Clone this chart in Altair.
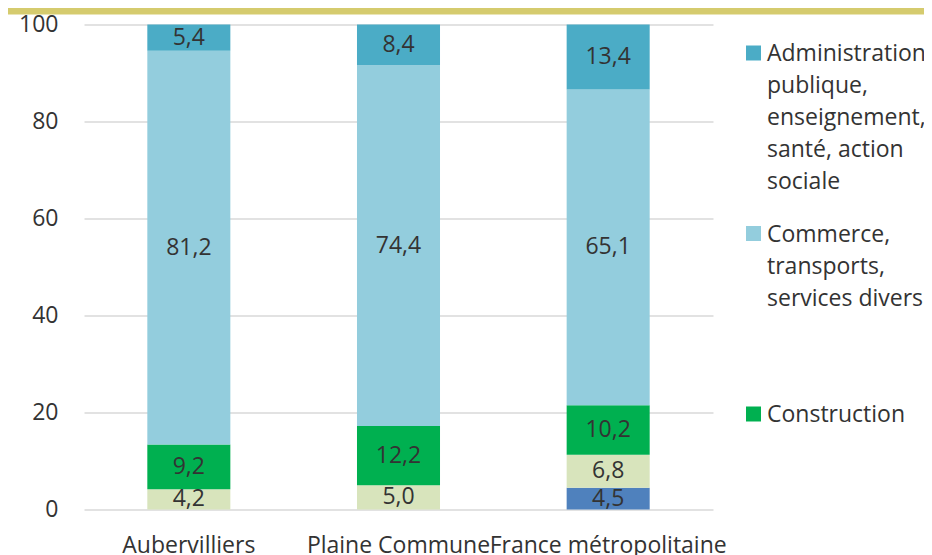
import json
import altair as alt
import pandas as pd

# ---- data ----
categories = ["Aubervilliers", "Plaine Commune", "France métropolitaine"]
# sectors from bottom to top of the stack
sectors = [
    "Agriculture",
    "Industrie",
    "Construction",
    "Commerce, transports, services divers",
    "Administration publique, enseignement, santé, action sociale",
]
agriculture = [None, None, 4.5]
industrie = [4.2, 5.0, 6.8]
construction = [9.2, 12.2, 10.2]
commerce = [81.2, 74.4, 65.1]
administration = [5.4, 8.4, 13.4]
y_ticks = [0, 20, 40, 60, 80, 100]

colors = ["#4f81bd", "#d8e4bc", "#00b050", "#93cddd", "#4bacc6"]

legend_lines = {
    "Administration publique, enseignement, santé, action sociale":
        ["Administration", "publique,", "enseignement,", "santé, action", "sociale"],
    "Commerce, transports, services divers":
        ["Commerce,", "transports,", "services divers"],
    "Construction": ["Construction"],
    "Industrie": ["Industrie"],
    "Agriculture": ["Agriculture"],
}

series = [agriculture, industrie, construction, commerce, administration]
rows = []
for si, (sec, vals) in enumerate(zip(sectors, series)):
    for ci, cat in enumerate(categories):
        if vals[ci] is not None:
            rows.append({"cat": cat, "sector": sec, "v": vals[ci], "order": si})
df = pd.DataFrame(rows)

FONT = "Open Sans"
TXT = "#333333"
FS = 23

legend_order = list(reversed(sectors))
legend_colors = list(reversed(colors))

label_expr = ""
for name in legend_order:
    label_expr += f"datum.label == {json.dumps(name)} ? {json.dumps(legend_lines[name])} : "
label_expr += "datum.label"

base = alt.Chart(df).transform_stack(
    stack="v", groupby=["cat"], as_=["y0", "y1"],
    sort=[alt.SortField("order", order="ascending")],
).transform_calculate(
    mid="(datum.y0 + datum.y1) / 2",
    lab="replace(format(datum.v, '.1f'), '.', ',')",
)

xscale = alt.Scale(paddingInner=0.604, paddingOuter=0.302)
yscale = alt.Scale(domain=[0, 100], nice=False)

xaxis = alt.Axis(labelAngle=0, ticks=False, domain=False, grid=False, labelPadding=25,
                 labelFontSize=FS, labelFont=FONT, labelColor=TXT,
                 labelOverlap=False, labelLimit=500)
yaxis = alt.Axis(values=y_ticks, ticks=False, domain=False, grid=True,
                 labelPadding=26, labelFontSize=FS, labelFont=FONT,
                 labelColor=TXT, gridColor="#d9d9d9", gridWidth=1.5)

bars = base.mark_bar().encode(
    x=alt.X("cat:N", sort=categories, title=None, scale=xscale, axis=xaxis),
    y=alt.Y("y0:Q", title=None, scale=yscale, axis=yaxis),
    y2="y1:Q",
    color=alt.Color(
        "sector:N",
        scale=alt.Scale(domain=legend_order, range=legend_colors),
        legend=alt.Legend(
            title=None, orient="none", legendX=658, legendY=7,
            symbolType="M-1,0.3333H1V2.3333H-1Z", symbolSize=225,
            symbolStrokeWidth=0, labelOffset=2, labelFontSize=FS,
            labelFont=FONT, labelColor=TXT, labelBaseline="top",
            labelLimit=0, gridAlign="all", rowPadding=17.5, padding=0,
            labelExpr=label_expr,
        ),
    ),
)

texts = base.mark_text(font=FONT, fontSize=FS, color=TXT, baseline="middle").encode(
    x=alt.X("cat:N", sort=categories, title=None, scale=xscale, axis=xaxis),
    y=alt.Y("mid:Q", title=None, scale=yscale, axis=yaxis),
    text="lab:N",
)

band = alt.Chart(pd.DataFrame({"k": [0]})).mark_rect(color="#d5cb6e").encode(
    x=alt.value(-76), x2=alt.value(840), y=alt.value(-16.5), y2=alt.value(-10)
)

chart = alt.layer(band, bars, texts).properties(
    width=629, height=485,
    autosize=alt.AutoSizeParams(type="none"),
    padding={"left": 76, "top": 16.5, "right": 211, "bottom": 45.5},
).configure(
    style={"guide-label": {"lineHeight": 32}},
).configure_view(strokeWidth=0, stroke=None)

chart.save("out.html", embed_options={"renderer": "svg", "actions": False})
